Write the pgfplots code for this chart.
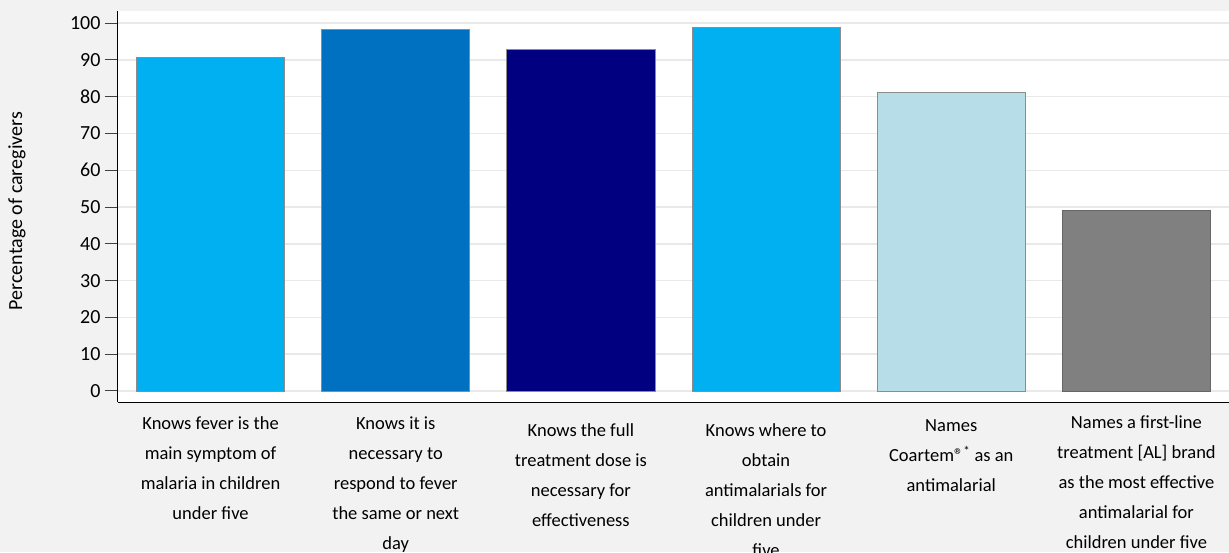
\documentclass[border=0pt]{standalone}
\usepackage{fontspec}
\setmainfont{Carlito}
\usepackage{pgfplots}
\pgfplotsset{compat=1.18}

\definecolor{bggray}{HTML}{F2F2F2}
\definecolor{gridgray}{HTML}{E9E9E9}
\definecolor{edgegray}{HTML}{8C8C8C}
\definecolor{cyanbar}{HTML}{00B0F0}
\definecolor{bluebar}{HTML}{0070C0}
\definecolor{navybar}{HTML}{000080}
\definecolor{palebar}{HTML}{B7DEE8}
\definecolor{greybar}{HTML}{808080}

\newcommand{\regsup}{®\textsuperscript{*}}

\begin{document}
\begin{tikzpicture}[x=1pt,y=1pt]
\path[use as bounding box, fill=bggray] (0,0) rectangle (1229,552);
\begin{axis}[
  at={(118pt,150pt)}, anchor=south west,
  scale only axis, width=1111pt, height=391pt,
  xmin=-0.5, xmax=5.5, ymin=-3, ymax=103.3,
  ytick={0,10,...,100},
  xtick={0,...,5},
  xticklabels={
    {\rule{0pt}{14pt}Knows fever is the\\main symptom of\\malaria in children\\under five},
    {\rule{0pt}{14pt}Knows it is\\necessary to\\respond to fever\\the same or next\\day},
    {\rule{0pt}{21pt}Knows the full\\treatment dose is\\necessary for\\effectiveness},
    {\rule{0pt}{21pt}Knows where to\\obtain\\antimalarials for\\children under\\five},
    {\rule{0pt}{16pt}Names\\Coartem\regsup{} as an\\antimalarial},
    {\rule{0pt}{13pt}Names a first-line\\treatment [AL] brand\\as the most effective\\antimalarial for\\children under five}},
  xticklabel style={align=center, anchor=north, yshift=3pt,
    font=\fontsize{18.5}{30}\selectfont},
  /pgf/number format/assume math mode=true,
  yticklabel style={font=\fontsize{20}{22}\selectfont, xshift=-1pt},
  ylabel={Percentage of caregivers},
  ylabel style={font=\fontsize{20}{22}\selectfont, at={(axis description cs:-0.0909,0.488)}, anchor=center},
  axis x line*=bottom, axis y line*=left,
  axis line style={black, line width=1pt},
  tick align=outside,
  major tick length=13pt,
  y tick style={line width=1pt, black!75},
  x tick style={draw=none},
  ymajorgrids,
  grid style={gridgray, line width=1.5pt},
  axis background/.style={fill=white},
  ybar, bar width=0.8, bar shift=0pt,
  every axis plot/.append style={draw=edgegray, line width=0.8pt},
]
\addplot[fill=cyanbar] coordinates {(0,90.8)};
\addplot[fill=bluebar] coordinates {(1,98.2)};
\addplot[fill=navybar] coordinates {(2,92.8)};
\addplot[fill=cyanbar] coordinates {(3,98.8)};
\addplot[fill=palebar] coordinates {(4,81.3)};
\addplot[fill=greybar, draw=black!60] coordinates {(5,49.2)};
\end{axis}
\end{tikzpicture}
\end{document}
